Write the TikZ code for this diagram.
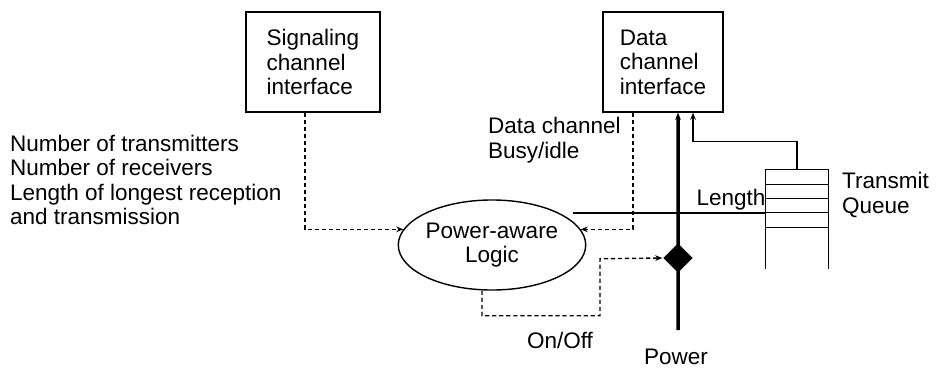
\documentclass[tikz,border=0pt]{standalone}
\usepackage{fontspec}
\setmainfont{Liberation Sans}
\usetikzlibrary{arrows.meta,positioning,shapes.geometric,calc}
\begin{document}
\begin{tikzpicture}[
  x=0.025cm,y=-0.025cm,
  >={Stealth[length=5pt,width=4pt]},
  line width=1pt,
  every node/.style={font=\fontsize{16}{17.5}\selectfont,align=left,inner sep=1pt},
  inode/.style={draw,minimum width=3.35cm,minimum height=2.5cm,inner sep=0pt},
  lnode/.style={draw,ellipse,minimum width=4.1cm,minimum height=2.25cm,
                inner sep=0pt,align=center},
  snode/.style={diamond,fill=black,minimum size=0.75cm,inner sep=0pt},
  ctl/.style={densely dashed},
  pwr/.style={line width=2.5pt}
]
\useasboundingbox (0,0) rectangle (940,368);

% ---- channel interfaces ----
\node[inode] (sig) at (313,62) {Signaling\\channel\\interface};
\node[inode,minimum width=3.0cm] (data) at (663,62) {Data\\channel\\interface};

% ---- logic and power switch ----
\node[lnode] (logic) at (492,245) {Power-aware\\Logic};
\node[snode] (sw) at (678,258) {};

% ---- transmit queue ----
\node[minimum width=1.55cm,minimum height=2.45cm,inner sep=0pt] (queue) at (797,219) {};
\draw (queue.south west) -- (queue.north west) -- (queue.north east) -- (queue.south east);
\foreach \d in {15,29,43,58}
  \draw ($(queue.north west)+(0,\d)$) -- ($(queue.north east)+(0,\d)$);

% ---- labels ----
\node[anchor=west] (stats) at (8,180) {Number of transmitters\\Number of receivers\\Length of longest reception\\and transmission};
\node[anchor=west] (busy) at (486,140) {Data channel\\Busy/idle};
\node[anchor=west] (tq) at (840,195) {Transmit\\Queue};
\node (lenlbl) at (731,200) {Length};
\node (onoff) at (560,340) {On/Off};
\node (power) at (676,357) {Power};

% ---- connectors ----
\coordinate (lenin) at (573,213);
\coordinate (pwrend) at (678,330);

\draw[ctl,->] ([xshift=-0.2cm]sig.south) |- (logic.170);
\draw[ctl,->] ([xshift=-0.75cm]data.south) |- (logic.10);
\draw (lenin) -- (lenin -| queue.west);
\draw[ctl,->] ([xshift=-0.25cm]logic.south) -- ++(0,25) -| ++(118,-57) -- (sw.west);
\draw[->] (queue.north) -- ++(0,-28) -| ([xshift=0.75cm]data.south);
\draw[pwr,->] (pwrend) -- ([xshift=0.375cm]data.south);

\end{tikzpicture}
\end{document}
